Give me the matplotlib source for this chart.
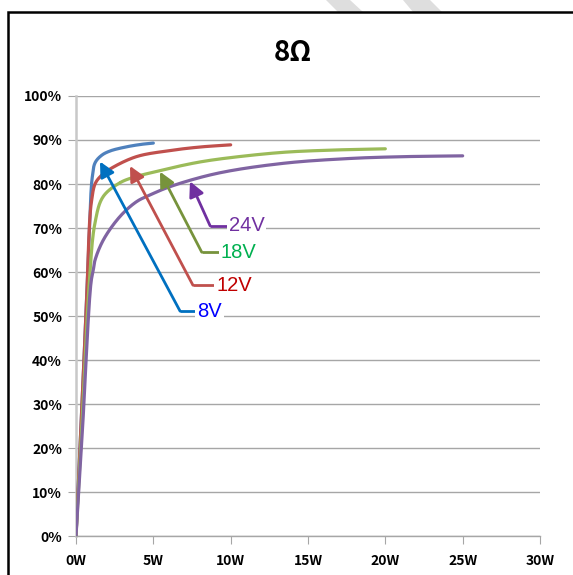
import matplotlib
matplotlib.use("Agg")
import matplotlib.pyplot as plt
from matplotlib.patches import Rectangle, Polygon
import numpy as np

# ---- data (W, %) ----
p8 = [0, 0.3, 0.73, 0.86, 0.95, 1.05, 1.23, 1.65, 2.2, 3.2, 4.2, 5.0]
e8 = [0, 23, 57.6, 69.5, 77, 81.5, 84.8, 86.5, 87.5, 88.4, 89.0, 89.3]
p12 = [0, 0.3, 0.73, 0.82, 0.9, 1.0, 1.23, 1.6, 2.2, 3.89, 6.08, 8.0, 10.0]
e12 = [0, 23, 57.6, 67, 72.5, 76, 80.0, 81.8, 83.4, 86.2, 87.6, 88.4, 88.9]
p18 = [0, 0.35, 0.86, 1.23, 1.75, 2.85, 3.89, 4.78, 6.08, 8.0, 10.0, 13.4, 16.5, 20.0]
e18 = [0, 23, 57.6, 71.2, 77.1, 80.3, 81.7, 82.5, 83.6, 85.0, 86.0, 87.2, 87.7, 88.0]
p24 = [0, 0.4, 0.97, 1.12, 1.23, 1.77, 2.84, 3.92, 4.78, 6.08, 9.1, 13.4, 17.7, 21.0, 25.0]
e24 = [0, 23, 57.6, 60.5, 62.7, 67.3, 72.6, 76.0, 77.5, 79.4, 82.4, 84.7, 85.8, 86.2, 86.4]

series_names = ["8V", "12V", "18V", "24V"]
line_colors = ["#4f81bd", "#c0504d", "#9bbb59", "#8064a2"]
arrow_colors = ["#0070c0", "#c0504d", "#77933c", "#7030a0"]
text_colors = ["#0000ff", "#c00000", "#00b050", "#7030a0"]
# arrow annotation geometry (tip, elbow, label start) in data units
arrow_tips = [(1.55, 85.1), (3.49, 84.1), (5.43, 82.8), (7.37, 80.6)]
arrow_elbows = [(6.73, 51.1), (7.56, 57.0), (8.13, 64.5), (8.67, 70.5)]
label_x = [7.85, 9.06, 9.37, 9.87]

xticks = [0, 5, 10, 15, 20, 25, 30]
xtick_labels = ["0W", "5W", "10W", "15W", "20W", "25W", "30W"]
yticks = list(range(0, 101, 10))
ytick_labels = [f"{v}%" for v in yticks]
title = "8Ω"

SX, SY = 15.47, 4.4  # approx pixel scale used for smoothing


def smooth(x, y, alpha=0.5, n=25):
    # centripetal Catmull-Rom in pixel-like space (similar to Excel smoothing)
    pts = np.column_stack([np.asarray(x, float) * SX, np.asarray(y, float) * SY])
    P = np.vstack([2 * pts[0] - pts[1], pts, 2 * pts[-1] - pts[-2]])
    out = []
    for i in range(1, len(P) - 2):
        p0, p1, p2, p3 = P[i - 1], P[i], P[i + 1], P[i + 2]
        t0 = 0.0
        t1 = t0 + np.linalg.norm(p1 - p0) ** alpha
        t2 = t1 + np.linalg.norm(p2 - p1) ** alpha
        t3 = t2 + np.linalg.norm(p3 - p2) ** alpha
        t = np.linspace(t1, t2, n)[:, None]
        A1 = (t1 - t) / (t1 - t0) * p0 + (t - t0) / (t1 - t0) * p1
        A2 = (t2 - t) / (t2 - t1) * p1 + (t - t1) / (t2 - t1) * p2
        A3 = (t3 - t) / (t3 - t2) * p2 + (t - t2) / (t3 - t2) * p3
        B1 = (t2 - t) / (t2 - t0) * A1 + (t - t0) / (t2 - t0) * A2
        B2 = (t3 - t) / (t3 - t1) * A2 + (t - t1) / (t3 - t1) * A3
        C = (t2 - t) / (t2 - t1) * B1 + (t - t1) / (t2 - t1) * B2
        out.append(C)
    s = np.vstack(out)
    return s[:, 0] / SX, s[:, 1] / SY


fig = plt.figure(figsize=(5.73, 5.75), dpi=100)
fig.patch.set_facecolor("white")

# watermark stripes and border
for poly in [[(326, 0), (350, 0), (363, 12), (338, 12)], [(403, 0), (430, 0), (442, 12), (413, 12)]]:
    fig.patches.append(Polygon([(px / 573, 1 - py / 575) for px, py in poly], closed=True,
                               transform=fig.transFigure, facecolor="#dedede", edgecolor="none"))
fig.patches.append(Rectangle((7.5 / 573, -0.1), 1.2, 1 - 12 / 575 + 0.1, transform=fig.transFigure,
                             facecolor="none", edgecolor="black", lw=1.8))

ax = fig.add_axes([76 / 573, 1 - 536 / 575, 464 / 573, 440 / 575])
ax.set_xlim(0, 30)
ax.set_ylim(0, 100)

for x, y, c in zip([p8, p12, p18, p24], [e8, e12, e18, e24], line_colors):
    sx, sy = smooth(x, y)
    ax.plot(sx, sy, color=c, lw=2.3, solid_capstyle="round", zorder=3)

for i in range(4):
    tip = arrow_tips[i]; elb = arrow_elbows[i]
    ax.plot([elb[0], label_x[i] - 0.05], [elb[1], elb[1]], color=arrow_colors[i], lw=2, zorder=4,
            solid_capstyle="butt")
    ax.annotate("", xy=tip, xytext=elb,
                arrowprops=dict(arrowstyle="-|>,head_length=0.9,head_width=0.45",
                                color=arrow_colors[i], lw=2, shrinkA=0, shrinkB=0), zorder=4)
    ax.text(label_x[i], elb[1], series_names[i], color=text_colors[i], fontsize=14.5,
            family="Liberation Sans", va="center", ha="left", zorder=5,
            bbox=dict(facecolor="white", edgecolor="none", pad=1.5))

ax.set_xticks(xticks)
ax.set_xticklabels(xtick_labels)
ax.set_yticks(yticks)
ax.set_yticklabels(ytick_labels)
for lab in ax.get_xticklabels() + ax.get_yticklabels():
    lab.set_fontweight("bold")
    lab.set_fontsize(10)
    lab.set_family(["Noto Sans CJK KR", "DejaVu Sans"])
ax.tick_params(axis="x", length=6, color="#a6a6a6", pad=7, direction="out")
ax.tick_params(axis="y", length=6, color="#a6a6a6", pad=4, direction="out")
ax.grid(axis="y", color="#a6a6a6", lw=1)
ax.set_axisbelow(True)
for s in ["top", "right"]:
    ax.spines[s].set_visible(False)
ax.spines["left"].set_color("#c8c8c8")
ax.spines["left"].set_linewidth(1.8)
ax.spines["bottom"].set_color("#a6a6a6")
ax.spines["bottom"].set_linewidth(1)

fig.text(293 / 573, 1 - 53 / 575, title, ha="center", va="center", fontsize=20, fontweight="bold",
         family=["Noto Sans CJK KR", "DejaVu Sans"])

fig.savefig("out.png", dpi=100, facecolor="white")
